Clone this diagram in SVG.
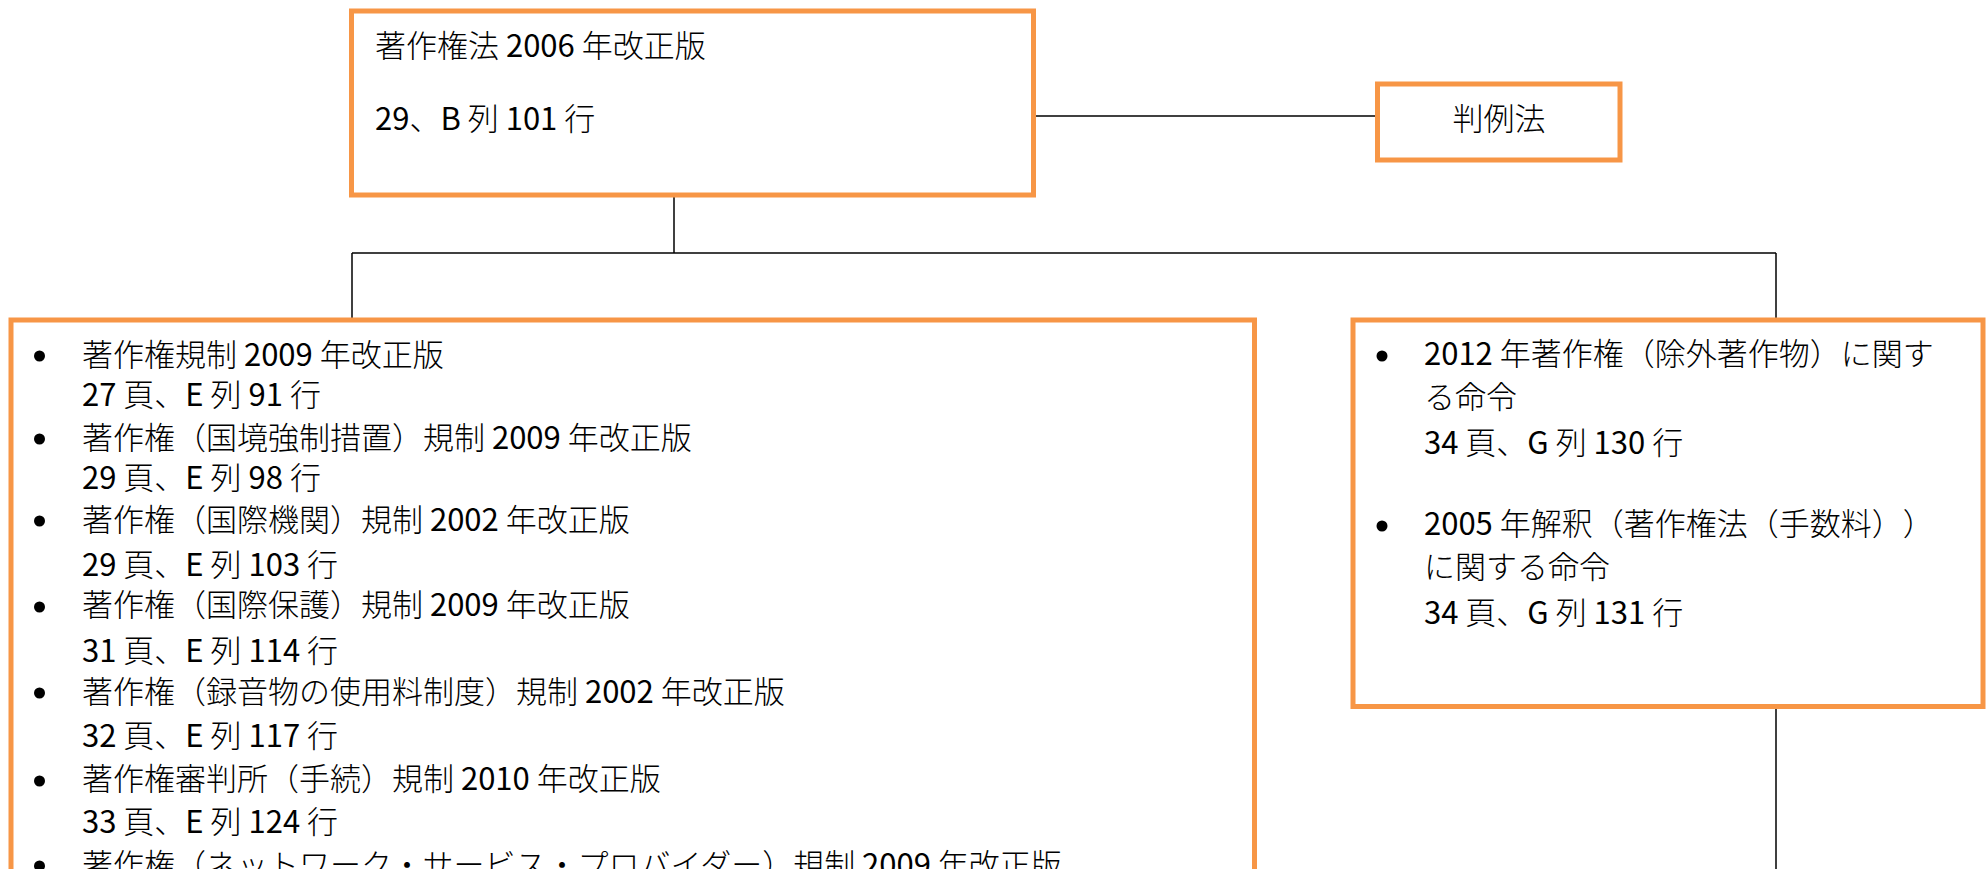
<svg xmlns="http://www.w3.org/2000/svg" width="1988" height="869" viewBox="0 0 1988 869">
<style>
  .box { fill: #ffffff; stroke: #F79646; stroke-width: 5; }
  .con { stroke: #000000; stroke-width: 1.5; fill: none; }
  .t { font-family: "Noto Sans CJK JP", "Noto Sans CJK SC", sans-serif; font-size: 31px; font-weight: 300; fill: #000000; text-spacing-trim: space-all; }
  .n { font-weight: 400; }
  .mid { text-anchor: middle; }
  .dot { fill: #000000; }
</style>
<rect width="1988" height="869" fill="#ffffff"/>
<g id="connectors">
  <line class="con" x1="1033" y1="116" x2="1377" y2="116"/>
  <line class="con" x1="674" y1="197" x2="674" y2="253"/>
  <line class="con" x1="352" y1="253" x2="1776" y2="253"/>
  <line class="con" x1="352" y1="253" x2="352" y2="318"/>
  <line class="con" x1="1776" y1="253" x2="1776" y2="318"/>
  <line class="con" x1="1776" y1="709" x2="1776" y2="869"/>
</g>
<g id="node-act">
  <rect class="box" x="351.5" y="11" width="682" height="184"/>
  <text class="t" x="375" y="57">著作権法<tspan class="n"> 2006 </tspan>年改正版</text>
  <text class="t" x="375" y="130"><tspan class="n">29</tspan>、<tspan class="n">B </tspan>列<tspan class="n"> 101 </tspan>行</text>
</g>
<g id="node-caselaw">
  <rect class="box" x="1377.5" y="84" width="242.5" height="76"/>
  <text class="t mid" x="1499" y="130">判例法</text>
</g>
<g id="node-regulations">
  <rect class="box" x="11" y="320" width="1243.5" height="600"/>
  <circle class="dot" cx="39.5" cy="356" r="5.5"/>
  <circle class="dot" cx="39.5" cy="439" r="5.5"/>
  <circle class="dot" cx="39.5" cy="521" r="5.5"/>
  <circle class="dot" cx="39.5" cy="607" r="5.5"/>
  <circle class="dot" cx="39.5" cy="693" r="5.5"/>
  <circle class="dot" cx="39.5" cy="781" r="5.5"/>
  <circle class="dot" cx="39.5" cy="866" r="5.5"/>
  <text class="t" x="82" y="366">著作権規制<tspan class="n"> 2009 </tspan>年改正版</text>
  <text class="t" x="82" y="406"><tspan class="n">27 </tspan>頁、<tspan class="n">E </tspan>列<tspan class="n"> 91 </tspan>行</text>
  <text class="t" x="82" y="449">著作権（国境強制措置）規制<tspan class="n"> 2009 </tspan>年改正版</text>
  <text class="t" x="82" y="489"><tspan class="n">29 </tspan>頁、<tspan class="n">E </tspan>列<tspan class="n"> 98 </tspan>行</text>
  <text class="t" x="82" y="531">著作権（国際機関）規制<tspan class="n"> 2002 </tspan>年改正版</text>
  <text class="t" x="82" y="576"><tspan class="n">29 </tspan>頁、<tspan class="n">E </tspan>列<tspan class="n"> 103 </tspan>行</text>
  <text class="t" x="82" y="616">著作権（国際保護）規制<tspan class="n"> 2009 </tspan>年改正版</text>
  <text class="t" x="82" y="662"><tspan class="n">31 </tspan>頁、<tspan class="n">E </tspan>列<tspan class="n"> 114 </tspan>行</text>
  <text class="t" x="82" y="703">著作権（録音物の使用料制度）規制<tspan class="n"> 2002 </tspan>年改正版</text>
  <text class="t" x="82" y="747"><tspan class="n">32 </tspan>頁、<tspan class="n">E </tspan>列<tspan class="n"> 117 </tspan>行</text>
  <text class="t" x="82" y="790">著作権審判所（手続）規制<tspan class="n"> 2010 </tspan>年改正版</text>
  <text class="t" x="82" y="833"><tspan class="n">33 </tspan>頁、<tspan class="n">E </tspan>列<tspan class="n"> 124 </tspan>行</text>
  <text class="t" x="82" y="876">著作権（ネットワーク・サービス・プロバイダー）規制<tspan class="n"> 2009 </tspan>年改正版</text>
</g>
<g id="node-orders">
  <rect class="box" x="1353" y="320" width="630" height="386.5"/>
  <circle class="dot" cx="1382" cy="356" r="5.5"/>
  <circle class="dot" cx="1382" cy="526" r="5.5"/>
  <text class="t" x="1424" y="365"><tspan class="n">2012 </tspan>年著作権（除外著作物）に関す</text>
  <text class="t" x="1424" y="408">る命令</text>
  <text class="t" x="1424" y="454"><tspan class="n">34 </tspan>頁、<tspan class="n">G </tspan>列<tspan class="n"> 130 </tspan>行</text>
  <text class="t" x="1424" y="535"><tspan class="n">2005 </tspan>年解釈（著作権法（手数料））</text>
  <text class="t" x="1424" y="578">に関する命令</text>
  <text class="t" x="1424" y="624"><tspan class="n">34 </tspan>頁、<tspan class="n">G </tspan>列<tspan class="n"> 131 </tspan>行</text>
</g>
</svg>
